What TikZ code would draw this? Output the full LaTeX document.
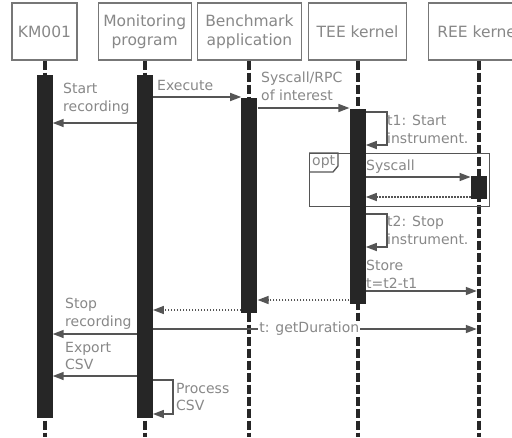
\documentclass[tikz,border=0pt]{standalone}
\usepackage{fontspec}
\setmainfont{DejaVu Sans}
\usetikzlibrary{arrows.meta,positioning}
\definecolor{bardark}{HTML}{262626}
\definecolor{linegray}{HTML}{555555}
\definecolor{textgray}{HTML}{888888}
\definecolor{boxgray}{HTML}{777777}

\begin{document}
\begin{tikzpicture}[
    x=1pt, y=-1pt,
    every node/.style={font=\fontsize{14}{17.5}\selectfont, text=textgray},
    head/.style={draw=boxgray, line width=1.2pt, minimum height=57pt, align=center, inner sep=0pt, font=\fontsize{15.5}{19}\selectfont},
    bar/.style={fill=bardark, minimum width=16pt, inner sep=0pt},
    life/.style={draw=bardark, line width=4pt, dash pattern=on 9pt off 3pt},
    frame/.style={draw=linegray, line width=1.3pt, inner sep=0pt},
    msg/.style={draw=linegray, line width=1.5pt, -{Triangle[length=11pt,width=8pt]}},
    reply/.style={msg, dash pattern=on 1.5pt off 1.5pt},
    lbl/.style={anchor=north west, align=left, inner sep=0pt}
]
\path[use as bounding box, fill=white] (0,0) rectangle (512,437);
% participants
\node[head, minimum width=65pt] (km) at (44.5,31.5) {KM001};
\node[head, minimum width=93pt, right=20pt of km] (mon) {Monitoring\\program};
\node[head, minimum width=104pt, right=5pt of mon] (bench) {Benchmark\\application};
\node[head, minimum width=98pt, right=6pt of bench] (tee) {TEE kernel};
\node[head, minimum width=100pt, right=21pt of tee] (ree) {REE kernel};
\coordinate (bot) at (0,437);
\foreach \n in {km,mon,bench,tee,ree}
    \draw[life] (\n.south) -- (\n.south |- bot);
% opt fragment
\node[frame, minimum width=180pt, minimum height=53pt, anchor=north west] (optbox) at (309,153) {};
\draw[draw=linegray, line width=1.3pt] (optbox.north west) -- ++(29,0) -- ++(0,13) -- ++(-5,6) -- ++(-24,0);
\node[lbl] (lopt) at (312,155) {opt};
% activations
\node[bar, minimum height=343pt, below=14pt of km] (kmbar) {};
\node[bar, minimum height=343pt, below=14pt of mon] (monbar) {};
\node[bar, minimum height=215pt, below=37pt of bench] (benchbar) {};
\node[bar, minimum height=195pt, below=48pt of tee] (teebar) {};
\node[bar, minimum height=23pt, below=115pt of ree] (reebar) {};
% message rows
\coordinate (rExec) at (0,97);
\coordinate (rSys) at (0,108);
\coordinate (rT1) at (0,112);
\coordinate (rT1e) at (0,145);
\coordinate (rStart) at (0,123);
\coordinate (rCall) at (0,177);
\coordinate (rBack) at (0,197);
\coordinate (rT2) at (0,214);
\coordinate (rT2e) at (0,247);
\coordinate (rStore) at (0,291);
\coordinate (rRet1) at (0,300);
\coordinate (rRet2) at (0,310);
\coordinate (rDur) at (0,329);
\coordinate (rStop) at (0,334);
\coordinate (rExport) at (0,376);
\coordinate (rProc) at (0,380);
\coordinate (rProce) at (0,414);
% messages
\draw[msg] (monbar.east |- rExec) -- (benchbar.west |- rExec);
\draw[msg] (benchbar.east |- rSys) -- (teebar.west |- rSys);
\draw[msg] (monbar.west |- rStart) -- (kmbar.east |- rStart);
\draw[msg] (teebar.east |- rT1) -- ++(21,0) |- (teebar.east |- rT1e);
\draw[msg] (teebar.east |- rCall) -- (reebar.west |- rCall);
\draw[reply] (reebar.west |- rBack) -- (teebar.east |- rBack);
\draw[msg] (teebar.east |- rT2) -- ++(21,0) |- (teebar.east |- rT2e);
\draw[msg, shorten >=2pt] (teebar.east |- rStore) -- (ree.south |- rStore);
\draw[reply] (teebar.west |- rRet1) -- (benchbar.east |- rRet1);
\draw[reply] (benchbar.west |- rRet2) -- (monbar.east |- rRet2);
\draw[msg, shorten >=2pt] (monbar.east |- rDur) -- node[pos=0.48, fill=white, inner sep=1pt] (ldur) {t: getDuration} (ree.south |- rDur);
\draw[msg] (monbar.west |- rStop) -- (kmbar.east |- rStop);
\draw[msg] (monbar.west |- rExport) -- (kmbar.east |- rExport);
\draw[msg] (monbar.east |- rProc) -- ++(20,0) |- (monbar.east |- rProce);
% labels
\node[lbl] (lstart) at (63,83) {Start\\recording};
\node[lbl] (lexec) at (157,80) {Execute};
\node[lbl] (lsys) at (261,72) {Syscall/RPC\\of interest};
\node[lbl] (lt1) at (387,115) {t1: Start\\instrument.};
\node[lbl] (lcall) at (366,160) {Syscall};
\node[lbl] (lt2) at (387,216) {t2: Stop\\instrument.};
\node[lbl] (lstore) at (366,260) {Store\\t=t2-t1};
\node[lbl] (lstop) at (65,298) {Stop\\recording};
\node[lbl] (lexport) at (65,342) {Export\\CSV};
\node[lbl] (lproc) at (176,383) {Process\\CSV};
\end{tikzpicture}
\end{document}
